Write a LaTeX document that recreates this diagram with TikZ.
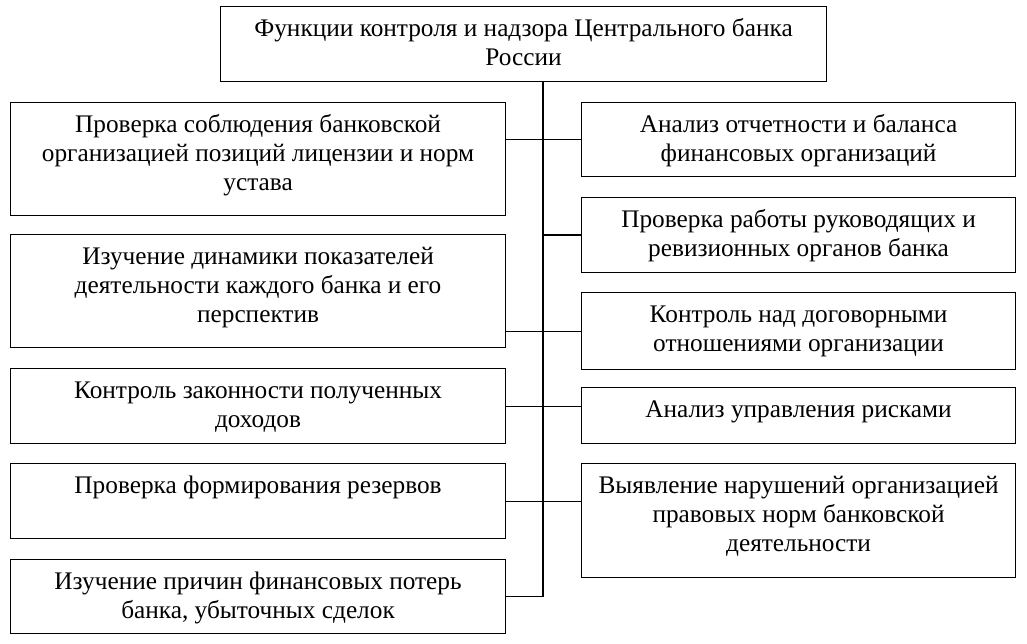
\documentclass[tikz,border=0pt]{standalone}
\usepackage{fontspec}
\setmainfont{Liberation Serif}
\usepackage{tikz}
\newcommand\boxtext[3]{\parbox[t][#2][t]{#1}{\centering\rule{0pt}{30pt}#3}}

\begin{document}
\begin{tikzpicture}[x=1pt,y=-1pt,
  box/.style={draw,line width=1.1pt,inner sep=0pt,anchor=north west,
    font=\fontsize{25.3}{29}\selectfont},
  link/.style={line width=1.1pt}]
  \useasboundingbox (0,0) rectangle (1027,644);

  \node[box] (top) at (220,6) {\boxtext{606pt}{75pt}{Функции контроля и надзора Центрального банка\\России}};

  \node[box] (l1) at (10,102) {\boxtext{495pt}{113pt}{Проверка соблюдения банковской\\организацией позиций лицензии и норм\\устава}};
  \node[box] (l2) at (10,234) {\boxtext{495pt}{113pt}{Изучение динамики показателей\\деятельности каждого банка и его\\перспектив}};
  \node[box] (l3) at (10,368) {\boxtext{495pt}{75pt}{Контроль законности полученных\\доходов}};
  \node[box] (l4) at (10,463) {\boxtext{495pt}{75pt}{Проверка формирования резервов}};
  \node[box] (l5) at (10,559) {\boxtext{495pt}{74pt}{Изучение причин финансовых потерь\\банка, убыточных сделок}};

  \node[box] (r1) at (581,102) {\boxtext{434pt}{74pt}{Анализ отчетности и баланса\\финансовых организаций}};
  \node[box] (r2) at (581,197) {\boxtext{434pt}{75pt}{Проверка работы руководящих и\\ревизионных органов банка}};
  \node[box] (r3) at (581,292) {\boxtext{434pt}{77pt}{Контроль над договорными\\отношениями организации}};
  \node[box] (r4) at (581,387) {\boxtext{434pt}{56pt}{Анализ управления рисками}};
  \node[box] (r5) at (581,463) {\boxtext{434pt}{114pt}{Выявление нарушений организацией\\правовых норм банковской\\деятельности}};

  % vertical bus between the two columns
  \coordinate (bus) at (543,0);
  \draw[link] (top.south -| bus) -- (l5.east -| bus);

  \draw[link] (l1.east |- r1.west) -- (r1.west);
  \draw[link] (r2.west -| bus) -- (r2.west);
  \draw[link] (l2.east |- r3.west) -- (r3.west);
  \draw[link] (l3.east) -- (l3.east -| r4.west);
  \draw[link] (l4.east) -- (l4.east -| r5.west);
  \draw[link] (l5.east) -- (l5.east -| bus);
\end{tikzpicture}
\end{document}
